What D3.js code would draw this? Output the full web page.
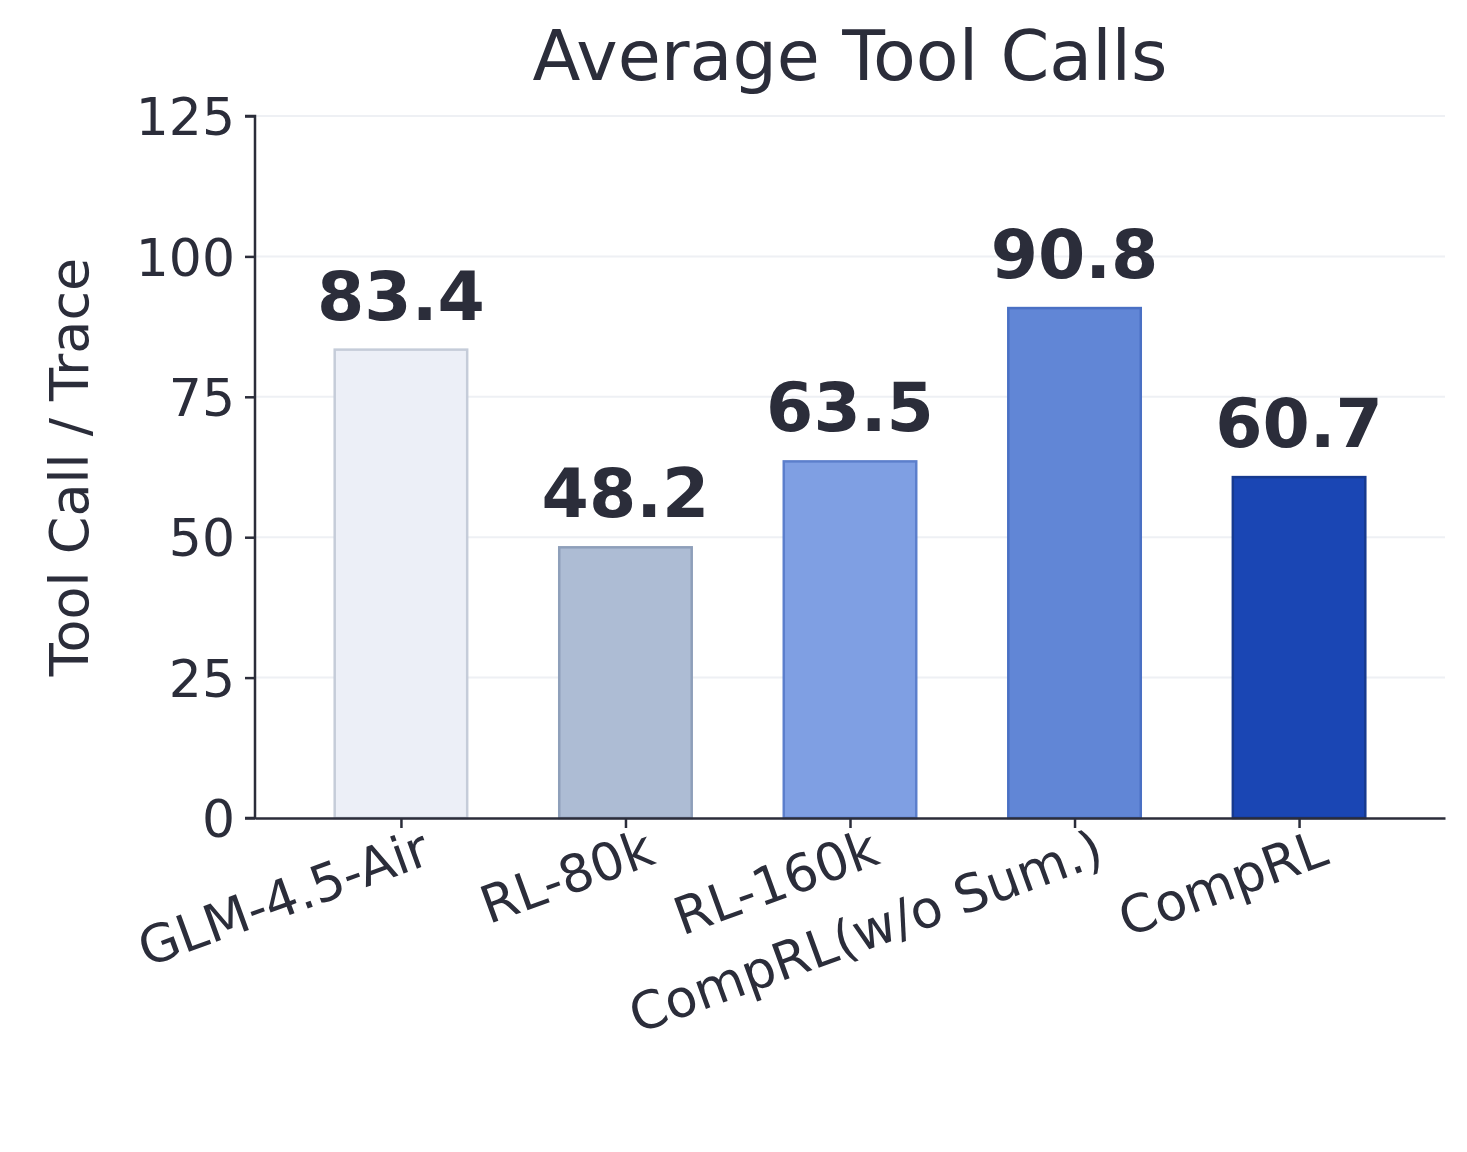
<!DOCTYPE html>
<html><head><meta charset="utf-8">
<script src="https://cdn.jsdelivr.net/npm/d3@7"></script>
<style>body{margin:0;background:#fff}</style></head>
<body><svg id="c" width="1467" height="1152"></svg>
<script>
const categories=["GLM-4.5-Air","RL-80k","RL-160k","CompRL(w/o Sum.)","CompRL"];
const values=[83.4,48.2,63.5,90.8,60.7];
const fills=["#eceff7","#adbcd4","#7f9fe3","#6186d6","#1a46b4"];
const strokes=["#c5ccd9","#8e9fba","#5c7fcc","#4a70c4","#163a90"];
const yTicks=[0,25,50,75,100,125];
const ink="#2b2d3a", font="DejaVu Sans, sans-serif";
const svg=d3.select("#c");
const L=255,R=1445,T=116,B=818;
const x=d3.scaleLinear().domain([-0.65,4.65]).range([L,R]);
const y=d3.scaleLinear().domain([0,125]).range([B,T]);
const bw=x(0.59)-x(0);
svg.append("g").selectAll("line").data(yTicks.slice(1)).join("line")
 .attr("x1",L).attr("x2",R).attr("y1",d=>y(d)).attr("y2",d=>y(d)).attr("stroke","#eef0f4").attr("stroke-width",2);
svg.append("g").selectAll("rect").data(values).join("rect")
 .attr("x",(d,i)=>x(i)-bw/2).attr("width",bw).attr("y",d=>y(d)).attr("height",d=>B-y(d))
 .attr("fill",(d,i)=>fills[i]).attr("stroke",(d,i)=>strokes[i]).attr("stroke-width",2.5);
svg.append("g").selectAll("text").data(values).join("text")
 .attr("x",(d,i)=>x(i)).attr("y",d=>y(d)-30).attr("text-anchor","middle")
 .attr("font-family",font).attr("font-weight","bold").attr("font-size",68).attr("fill",ink).text(d=>d.toFixed(1));
const ya=svg.append("g").attr("transform",`translate(${L},0)`).call(d3.axisLeft(y).tickValues(yTicks).tickSize(10).tickPadding(10));
const xa=svg.append("g").attr("transform",`translate(0,${B})`).call(d3.axisBottom(x).tickValues(d3.range(5)).tickFormat(i=>categories[i]).tickSize(10).tickSizeOuter(0));
[ya,xa].forEach(a=>{a.select(".domain").attr("stroke",ink).attr("stroke-width",2.5);
 a.selectAll(".tick line").attr("stroke",ink).attr("stroke-width",2.5);
 a.selectAll("text").attr("font-family",font).attr("font-size",52).attr("fill",ink);});
ya.select(".domain").attr("d",`M-10,${T}H0V${B}H-10`);
ya.selectAll(".tick text").attr("dy","0.36em");
xa.selectAll(".tick text").attr("text-anchor","end").attr("dy","0.75em").attr("y",14)
 .attr("transform","rotate(-20) translate(14,0)");
svg.append("text").attr("x",850).attr("y",80).attr("text-anchor","middle").attr("font-family",font)
 .attr("font-size",70).attr("fill",ink).text("Average Tool Calls");
svg.append("text").attr("transform","translate(88,467) rotate(-90)").attr("text-anchor","middle").attr("font-family",font)
 .attr("font-size",54).attr("fill",ink).text("Tool Call / Trace");
</script></body></html>
